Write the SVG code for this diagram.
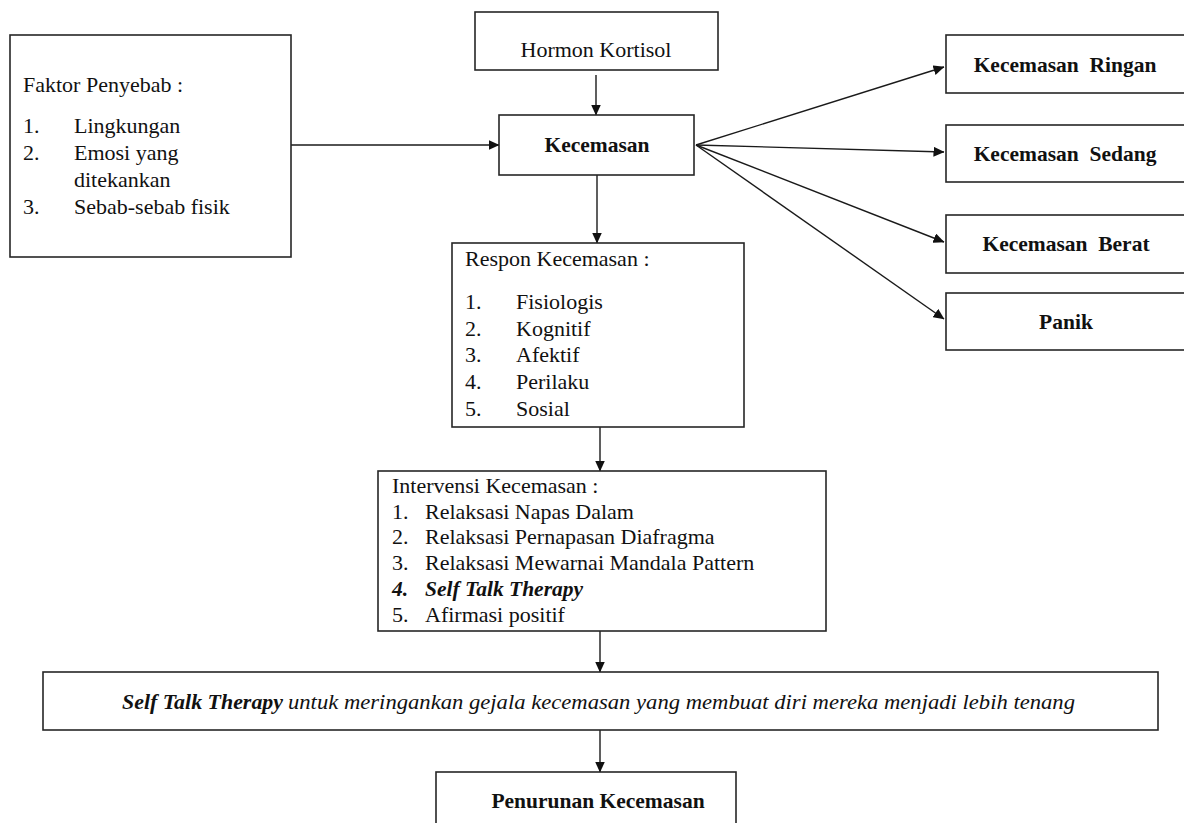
<svg xmlns="http://www.w3.org/2000/svg" width="1184" height="823" viewBox="0 0 1184 823">
<style>
.box{fill:#fff;stroke:#262626;stroke-width:1.6}
.ln{stroke:#1a1a1a;stroke-width:1.4;fill:none;marker-end:url(#ah)}
text{font-family:"Liberation Serif","Times New Roman",serif;fill:#111;font-size:22px}
.b{font-weight:bold;font-size:21.5px}
.c{text-anchor:middle}
.pre{white-space:pre}
</style>
<defs>
<marker id="ah" markerUnits="userSpaceOnUse" markerWidth="11" markerHeight="10" refX="10.5" refY="5" orient="auto">
<path d="M0,0 L11,5 L0,10 z" fill="#111"/>
</marker>
</defs>
<rect width="1184" height="823" fill="#fff"/>

<g id="connectors">
<line class="ln" x1="291" y1="145" x2="499" y2="145"/>
<line class="ln" x1="596" y1="75" x2="596" y2="115"/>
<line class="ln" x1="597" y1="175" x2="597" y2="243"/>
<line class="ln" x1="696" y1="145" x2="944" y2="67"/>
<line class="ln" x1="696" y1="145" x2="944" y2="152"/>
<line class="ln" x1="696" y1="145" x2="944" y2="242"/>
<line class="ln" x1="696" y1="145" x2="944" y2="319"/>
<line class="ln" x1="600" y1="427" x2="600" y2="471"/>
<line class="ln" x1="600" y1="631" x2="600" y2="672"/>
<line class="ln" x1="600" y1="730" x2="600" y2="772"/>
</g>

<g id="faktor">
<rect class="box" x="10" y="35" width="281" height="222"/>
<text x="23" y="92">Faktor Penyebab :</text>
<text x="23" y="133">1.</text><text x="74" y="133">Lingkungan</text>
<text x="23" y="160">2.</text><text x="74" y="160">Emosi yang</text>
<text x="74" y="187">ditekankan</text>
<text x="23" y="214">3.</text><text x="74" y="214">Sebab-sebab fisik</text>
</g>

<g id="hormon">
<rect class="box" x="475" y="12" width="243" height="58"/>
<text class="c" x="596" y="57">Hormon Kortisol</text>
</g>

<g id="kecemasan">
<rect class="box" x="499" y="115" width="195" height="60"/>
<text class="c b" x="597" y="152">Kecemasan</text>
</g>

<g id="ringan">
<rect class="box" x="946" y="35" width="250" height="58"/>
<text class="c b pre" x="1065" y="72">Kecemasan  Ringan</text>
</g>
<g id="sedang">
<rect class="box" x="946" y="125" width="250" height="57"/>
<text class="c b pre" x="1065" y="161">Kecemasan  Sedang</text>
</g>
<g id="berat">
<rect class="box" x="946" y="215" width="250" height="58"/>
<text class="c b pre" x="1066" y="251">Kecemasan  Berat</text>
</g>
<g id="panik">
<rect class="box" x="946" y="293" width="250" height="57"/>
<text class="c b" x="1066" y="329">Panik</text>
</g>

<g id="respon">
<rect class="box" x="452" y="243" width="292" height="184"/>
<text x="465" y="266">Respon Kecemasan :</text>
<text x="465" y="309">1.</text><text x="516" y="309">Fisiologis</text>
<text x="465" y="336">2.</text><text x="516" y="336">Kognitif</text>
<text x="465" y="362">3.</text><text x="516" y="362">Afektif</text>
<text x="465" y="389">4.</text><text x="516" y="389">Perilaku</text>
<text x="465" y="416">5.</text><text x="516" y="416">Sosial</text>
</g>

<g id="intervensi">
<rect class="box" x="378" y="471" width="448" height="160"/>
<text x="392" y="493">Intervensi Kecemasan :</text>
<text x="392" y="519">1.</text><text x="425" y="519">Relaksasi Napas Dalam</text>
<text x="392" y="544">2.</text><text x="425" y="544">Relaksasi Pernapasan Diafragma</text>
<text x="392" y="570">3.</text><text x="425" y="570">Relaksasi Mewarnai Mandala Pattern</text>
<text x="392" y="596" class="b" font-style="italic">4.</text><text x="425" y="596" class="b" font-style="italic">Self Talk Therapy</text>
<text x="392" y="622">5.</text><text x="425" y="622">Afirmasi positif</text>
</g>

<g id="selftalk">
<rect class="box" x="43" y="672" width="1115" height="58"/>
<text x="122" y="709" class="b" font-style="italic" textLength="161" lengthAdjust="spacingAndGlyphs">Self Talk Therapy</text>
<text x="288" y="709" font-style="italic" textLength="787" lengthAdjust="spacingAndGlyphs">untuk meringankan gejala kecemasan yang membuat diri mereka menjadi lebih tenang</text>
</g>

<g id="penurunan">
<rect class="box" x="436" y="772" width="300" height="70"/>
<text class="c b" x="598" y="808">Penurunan Kecemasan</text>
</g>
</svg>
